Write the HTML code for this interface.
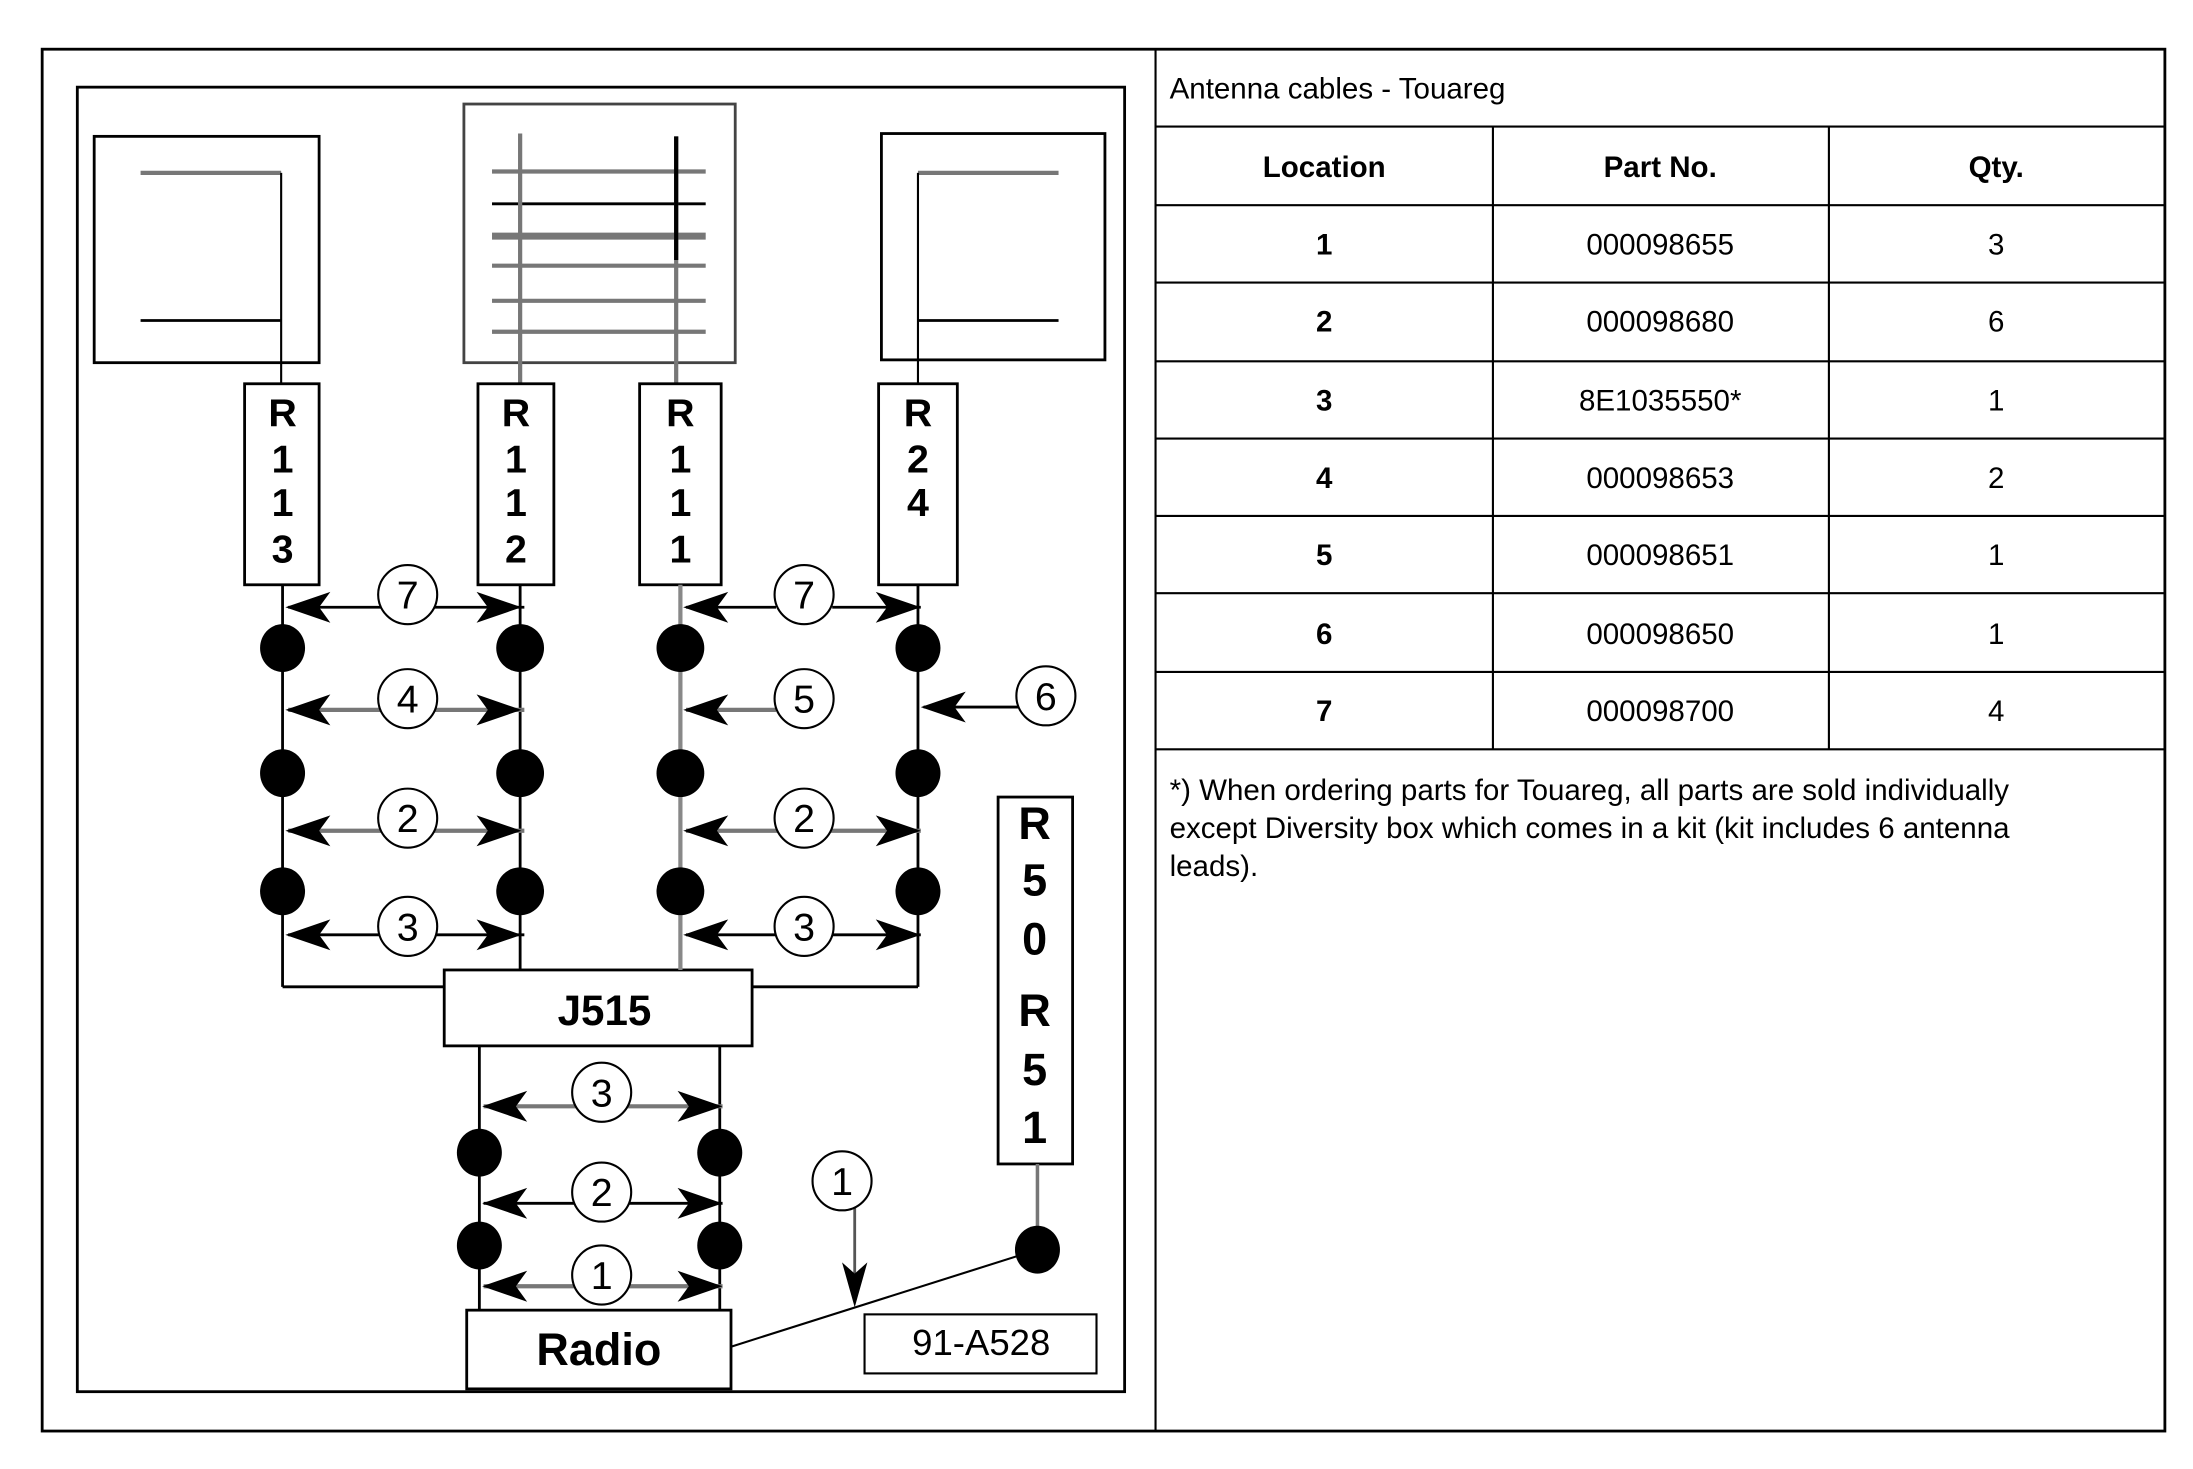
<!DOCTYPE html>
<html><head><meta charset="utf-8"><style>
html,body{margin:0;padding:0;background:#fff;}
svg{display:block;}
text{font-family:"Liberation Sans",Arial,sans-serif;}
</style></head><body>
<svg width="2193" height="1469" viewBox="0 0 1560 1045" preserveAspectRatio="none" xmlns="http://www.w3.org/2000/svg">
<rect width="1560" height="1045" fill="#fff"/>
<rect x="30" y="35" width="1510" height="983" fill="none" stroke="#000" stroke-width="2"/>
<line x1="822" y1="35" x2="822" y2="1018" stroke="#000" stroke-width="1.5"/>
<g stroke="#000" stroke-width="1.5">
<line x1="822" y1="90" x2="1540" y2="90"/>
<line x1="822" y1="146" x2="1540" y2="146"/>
<line x1="822" y1="201" x2="1540" y2="201"/>
<line x1="822" y1="257" x2="1540" y2="257"/>
<line x1="822" y1="312" x2="1540" y2="312"/>
<line x1="822" y1="367" x2="1540" y2="367"/>
<line x1="822" y1="422" x2="1540" y2="422"/>
<line x1="822" y1="478" x2="1540" y2="478"/>
<line x1="822" y1="533" x2="1540" y2="533"/>
<line x1="1062" y1="90" x2="1062" y2="533"/>
<line x1="1301" y1="90" x2="1301" y2="533"/>
</g>
<g font-size="21" fill="#000">
<text x="832" y="70">Antenna cables - Touareg</text>
<g text-anchor="middle" font-weight="bold">
<text x="942" y="126">Location</text><text x="1181" y="126">Part No.</text><text x="1420" y="126">Qty.</text>
<text x="942" y="181">1</text><text x="942" y="236">2</text><text x="942" y="292">3</text><text x="942" y="347">4</text><text x="942" y="402">5</text><text x="942" y="458">6</text><text x="942" y="513">7</text>
</g>
<g text-anchor="middle">
<text x="1181" y="181">000098655</text><text x="1181" y="236">000098680</text><text x="1181" y="292">8E1035550*</text><text x="1181" y="347">000098653</text><text x="1181" y="402">000098651</text><text x="1181" y="458">000098650</text><text x="1181" y="513">000098700</text>
<text x="1420" y="181">3</text><text x="1420" y="236">6</text><text x="1420" y="292">1</text><text x="1420" y="347">2</text><text x="1420" y="402">1</text><text x="1420" y="458">1</text><text x="1420" y="513">4</text>
</g>
<text x="832" y="569">*) When ordering parts for Touareg, all parts are sold individually</text>
<text x="832" y="596">except Diversity box which comes in a kit (kit includes 6 antenna</text>
<text x="832" y="623">leads).</text>
</g>
<rect x="55" y="62" width="745" height="928" fill="none" stroke="#000" stroke-width="2"/>
<rect x="67" y="97" width="160" height="161" fill="none" stroke="#000" stroke-width="2"/>
<line x1="100" y1="123" x2="200" y2="123" stroke="#777" stroke-width="3"/>
<line x1="100" y1="228" x2="200" y2="228" stroke="#000" stroke-width="2"/>
<line x1="200" y1="123" x2="200" y2="273" stroke="#000" stroke-width="1.5"/>
<rect x="330" y="74" width="193" height="184" fill="none" stroke="#444" stroke-width="2"/>
<g stroke="#777" stroke-width="3">
<line x1="350" y1="122" x2="502" y2="122"/>
<line x1="350" y1="168" x2="502" y2="168" stroke-width="5"/>
<line x1="350" y1="189" x2="502" y2="189"/>
<line x1="350" y1="214" x2="502" y2="214"/>
<line x1="350" y1="236" x2="502" y2="236"/>
</g>
<line x1="350" y1="145" x2="502" y2="145" stroke="#000" stroke-width="2"/>
<line x1="370" y1="95" x2="370" y2="273" stroke="#777" stroke-width="3"/>
<line x1="481" y1="97" x2="481" y2="273" stroke="#777" stroke-width="3"/>
<line x1="481" y1="97" x2="481" y2="185" stroke="#000" stroke-width="3"/>
<rect x="627" y="95" width="159" height="161" fill="none" stroke="#000" stroke-width="2"/>
<line x1="653" y1="123" x2="753" y2="123" stroke="#777" stroke-width="3"/>
<line x1="653" y1="228" x2="753" y2="228" stroke="#000" stroke-width="2"/>
<line x1="653" y1="123" x2="653" y2="273" stroke="#000" stroke-width="1.5"/>
<g fill="#fff" stroke="#000" stroke-width="2">
<rect x="174" y="273" width="53" height="143"/>
<rect x="340" y="273" width="54" height="143"/>
<rect x="455" y="273" width="58" height="143"/>
<rect x="625" y="273" width="56" height="143"/>
<rect x="710" y="567" width="53" height="261"/>
<rect x="316" y="690" width="219" height="54"/>
<rect x="332" y="932" width="188" height="56"/>
<rect x="615" y="935" width="165" height="42" stroke-width="1.5"/>
</g>
<g font-size="28" font-weight="bold" text-anchor="middle" fill="#000">
<text x="201" y="303">R</text><text x="201" y="336">1</text><text x="201" y="367">1</text><text x="201" y="400">3</text>
<text x="367" y="303">R</text><text x="367" y="336">1</text><text x="367" y="367">1</text><text x="367" y="400">2</text>
<text x="484" y="303">R</text><text x="484" y="336">1</text><text x="484" y="367">1</text><text x="484" y="400">1</text>
<text x="653" y="303">R</text><text x="653" y="336">2</text><text x="653" y="367">4</text>
<text x="736" y="597" font-size="32">R</text><text x="736" y="637" font-size="32">5</text><text x="736" y="679" font-size="32">0</text><text x="736" y="730" font-size="32">R</text><text x="736" y="772" font-size="32">5</text><text x="736" y="813" font-size="32">1</text>
<text x="430" y="729" font-size="30">J515</text>
<text x="426" y="971" font-size="32">Radio</text>
</g>
<text x="698" y="964" font-size="26" text-anchor="middle">91-A528</text>
<g stroke="#000" stroke-width="2" fill="none">
<line x1="201" y1="416" x2="201" y2="702"/>
<line x1="370" y1="416" x2="370" y2="690"/>
<line x1="484" y1="416" x2="484" y2="690" stroke="#888" stroke-width="3"/>
<line x1="653" y1="416" x2="653" y2="702"/>
<polyline points="201,702 316,702"/>
<polyline points="535,702 653,702"/>
<line x1="341" y1="744" x2="341" y2="932"/>
<line x1="512" y1="744" x2="512" y2="932"/>
<line x1="738" y1="828" x2="738" y2="889" stroke="#777" stroke-width="2.5"/>
<line x1="738" y1="889" x2="520" y2="958" stroke-width="1.5"/>
</g>
<g stroke="#000" stroke-width="2">
<line x1="205" y1="432" x2="373" y2="432"/>
<line x1="488" y1="432" x2="552" y2="432"/><line x1="592" y1="432" x2="655" y2="432"/>
<line x1="205" y1="505" x2="373" y2="505" stroke="#777" stroke-width="3"/>
<line x1="488" y1="505" x2="552" y2="505" stroke="#777" stroke-width="3"/>
<line x1="657" y1="503" x2="725" y2="503"/>
<line x1="205" y1="591" x2="373" y2="591" stroke="#777" stroke-width="3"/>
<line x1="488" y1="591" x2="655" y2="591" stroke="#777" stroke-width="3"/>
<line x1="205" y1="665" x2="373" y2="665"/>
<line x1="488" y1="665" x2="655" y2="665"/>
<line x1="344" y1="787" x2="514" y2="787" stroke="#777" stroke-width="3"/>
<line x1="344" y1="856" x2="514" y2="856"/>
<line x1="344" y1="915" x2="514" y2="915" stroke="#777" stroke-width="3"/>
<line x1="608" y1="857" x2="608" y2="925" stroke="#555" stroke-width="2"/>
</g>
<g fill="#000">
<path d="M203 432 l32 -11 l-8 11 l8 11z"/><path d="M371 432 l-32 -11 l8 11 l-8 11z"/>
<path d="M486 432 l32 -11 l-8 11 l8 11z"/><path d="M655 432 l-32 -11 l8 11 l-8 11z"/>
<path d="M203 505 l32 -11 l-8 11 l8 11z"/><path d="M371 505 l-32 -11 l8 11 l-8 11z"/>
<path d="M486 505 l32 -11 l-8 11 l8 11z"/>
<path d="M655 503 l32 -11 l-8 11 l8 11z"/>
<path d="M203 591 l32 -11 l-8 11 l8 11z"/><path d="M371 591 l-32 -11 l8 11 l-8 11z"/>
<path d="M486 591 l32 -11 l-8 11 l8 11z"/><path d="M655 591 l-32 -11 l8 11 l-8 11z"/>
<path d="M203 665 l32 -11 l-8 11 l8 11z"/><path d="M371 665 l-32 -11 l8 11 l-8 11z"/>
<path d="M486 665 l32 -11 l-8 11 l8 11z"/><path d="M655 665 l-32 -11 l8 11 l-8 11z"/>
<path d="M343 787 l32 -11 l-8 11 l8 11z"/><path d="M514 787 l-32 -11 l8 11 l-8 11z"/>
<path d="M343 856 l32 -11 l-8 11 l8 11z"/><path d="M514 856 l-32 -11 l8 11 l-8 11z"/>
<path d="M343 915 l32 -11 l-8 11 l8 11z"/><path d="M514 915 l-32 -11 l8 11 l-8 11z"/>
<path d="M608 930 l-9 -32 l9 8 l9 -8z"/>
</g>
<g fill="#000">
<ellipse cx="201" cy="461" rx="16" ry="17"/><ellipse cx="370" cy="461" rx="17" ry="17"/><ellipse cx="484" cy="461" rx="17" ry="17"/><ellipse cx="653" cy="461" rx="16" ry="17"/>
<ellipse cx="201" cy="550" rx="16" ry="17"/><ellipse cx="370" cy="550" rx="17" ry="17"/><ellipse cx="484" cy="550" rx="17" ry="17"/><ellipse cx="653" cy="550" rx="16" ry="17"/>
<ellipse cx="201" cy="634" rx="16" ry="17"/><ellipse cx="370" cy="634" rx="17" ry="17"/><ellipse cx="484" cy="634" rx="17" ry="17"/><ellipse cx="653" cy="634" rx="16" ry="17"/>
<ellipse cx="341" cy="820" rx="16" ry="17"/><ellipse cx="512" cy="820" rx="16" ry="17"/>
<ellipse cx="341" cy="886" rx="16" ry="17"/><ellipse cx="512" cy="886" rx="16" ry="17"/>
<ellipse cx="738" cy="889" rx="16" ry="17"/>
</g>
<g fill="#fff" stroke="#000" stroke-width="1.5">
<circle cx="290" cy="423" r="21"/><circle cx="572" cy="423" r="21"/>
<circle cx="290" cy="497" r="21"/><circle cx="572" cy="497" r="21"/><circle cx="744" cy="495" r="21"/>
<circle cx="290" cy="582" r="21"/><circle cx="572" cy="582" r="21"/>
<circle cx="290" cy="659" r="21"/><circle cx="572" cy="659" r="21"/>
<circle cx="428" cy="777" r="21"/><circle cx="428" cy="848" r="21"/><circle cx="428" cy="907" r="21"/>
<circle cx="599" cy="840" r="21"/>
</g>
<g font-size="28" text-anchor="middle" fill="#000">
<text x="290" y="433">7</text><text x="572" y="433">7</text>
<text x="290" y="507">4</text><text x="572" y="507">5</text><text x="744" y="505">6</text>
<text x="290" y="592">2</text><text x="572" y="592">2</text>
<text x="290" y="669">3</text><text x="572" y="669">3</text>
<text x="428" y="787">3</text><text x="428" y="858">2</text><text x="428" y="917">1</text>
<text x="599" y="850">1</text>
</g>
</svg>
</body></html>
